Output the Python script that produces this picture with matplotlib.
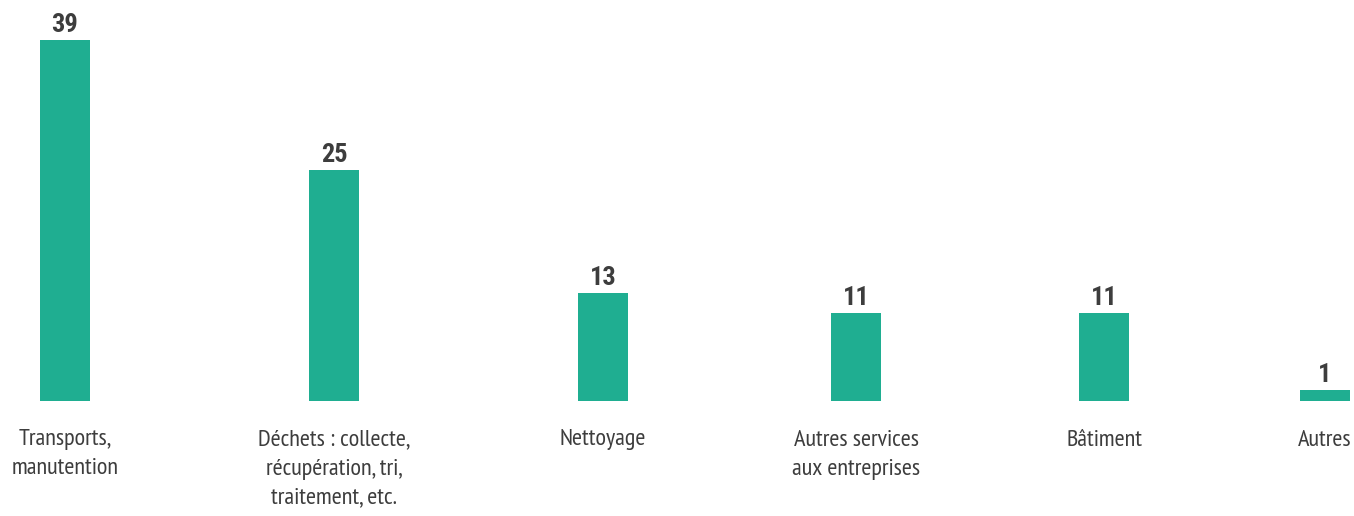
import matplotlib.pyplot as plt
from matplotlib import font_manager

# data
categories = [
    "Transports,\nmanutention",
    "Déchets : collecte,\nrécupération, tri,\ntraitement, etc.",
    "Nettoyage",
    "Autres services\naux entreprises",
    "Bâtiment",
    "Autres",
]
labels = [39, 25, 13, 11, 11, 1]
# bar heights as drawn (not quite proportional to the labels)
heights = [39, 24.9, 11.6, 9.5, 9.5, 1.1]

# layout: centre of each category slot, in pixels
slot_centers = [65, 334, 603, 856, 1104, 1325]

GREEN = "#1fae91"
TEXT = "#3d3d3d"


def pick(*wanted):
    names = {f.name for f in font_manager.fontManager.ttflist}
    for w in wanted:
        if w in names:
            return w
    return "DejaVu Sans"


cat_font = pick("PT Sans Narrow", "Fira Sans Condensed", "Roboto Condensed", "Liberation Sans Narrow")
num_font = pick("Roboto Condensed", "Archivo Narrow", "Liberation Sans Narrow", "Liberation Sans")

W, H = 1354, 516
fig = plt.figure(figsize=(W / 100, H / 100), dpi=100)
base = 400.5
top = 40
ax = fig.add_axes([0, (H - base) / H, 1, (base - top) / H])
ax.set_xlim(0, W)
ax.set_ylim(0, max(heights))
ax.axis("off")

ax.bar(slot_centers, heights, width=50, color=GREEN)

px = 72 / 100
for x, h, lab in zip(slot_centers, heights, labels):
    ax.annotate(str(lab), (x, h), xytext=(0, 3 * px), textcoords="offset points",
                ha="center", va="bottom", fontsize=19, fontweight="bold",
                family=[num_font, "DejaVu Sans"], color=TEXT)

for x, cat in zip(slot_centers, categories):
    ax.annotate(cat, (x, 0), xytext=(0, -29 * px), textcoords="offset points",
                ha="center", va="top", fontsize=17.5, linespacing=1.5,
                family=[cat_font, "DejaVu Sans"], color=TEXT, annotation_clip=False)

fig.savefig("out.png", dpi=100)
